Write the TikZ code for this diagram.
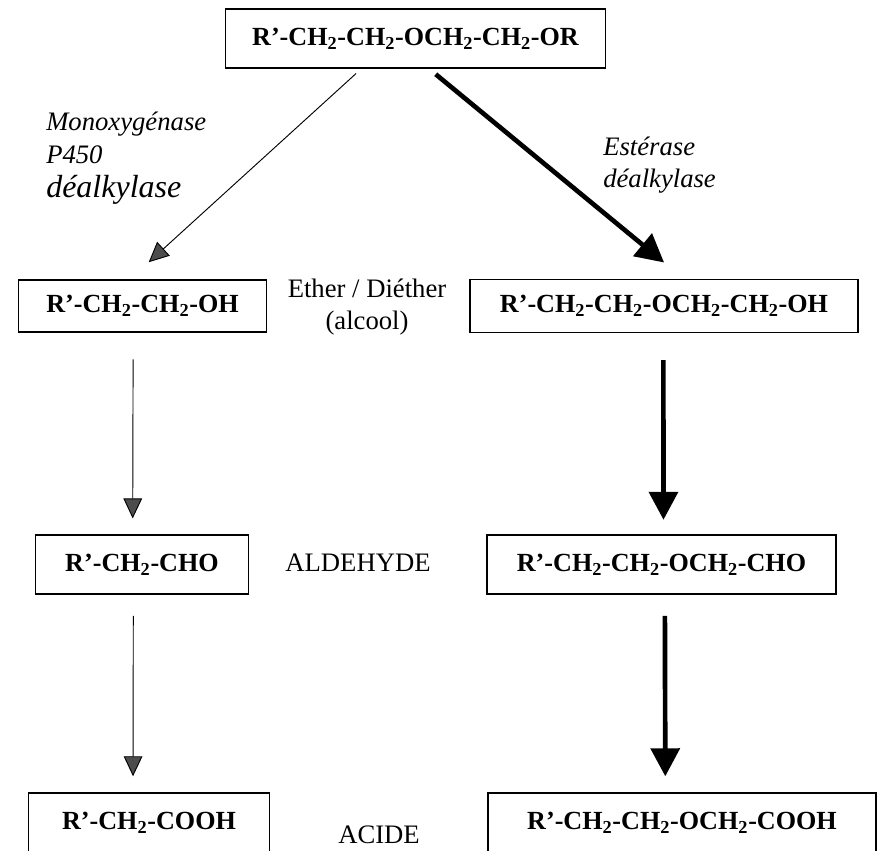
\documentclass[tikz,border=0pt]{standalone}
\usepackage{fontspec}
\setmainfont{Liberation Serif}
\usetikzlibrary{arrows.meta}
\newcommand{\cdeux}{CH\textsubscript{2}}
\tikzset{
  molbox/.style={draw,line width=1.1pt,inner sep=0pt,font=\fontsize{19.6}{24}\selectfont\bfseries},
  enzlabel/.style={align=left,anchor=west,inner sep=0pt,font=\fontsize{20}{23.5}\selectfont\itshape},
  famlabel/.style={align=center,inner sep=0pt,font=\fontsize{20}{23.5}\selectfont},
  thinarrow/.style={line width=0.7pt,-{Triangle[length=15pt,width=14pt,fill=black!70]}},
  thickarrow/.style={line width=3.5pt,-{Triangle[length=21pt,width=21.5pt,fill=black]}}
}
\begin{document}
\begin{tikzpicture}[x=0.75pt,y=-0.75pt]
\useasboundingbox (0,0) rectangle (877,850);
\clip (0,0) rectangle (877,850);
% top
\node[molbox,minimum width=285pt,minimum height=44pt] (top) at (415.5,38.5) {R'-\cdeux-\cdeux-O\cdeux-\cdeux-OR};
% left column
\node[molbox,minimum width=186pt,minimum height=39pt] (alcL) at (142.5,306) {R'-\cdeux-\cdeux-OH};
\node[molbox,minimum width=160pt,minimum height=44pt] (aldL) at (142,564.5) {R'-\cdeux-CHO};
\node[molbox,minimum width=181pt,minimum height=45pt] (acL) at (149,823) {R'-\cdeux-COOH};
% right column
\node[molbox,minimum width=291pt,minimum height=40pt] (alcR) at (664,306) {R'-\cdeux-\cdeux-O\cdeux-\cdeux-OH};
\node[molbox,minimum width=262pt,minimum height=44pt] (aldR) at (661.5,564.5) {R'-\cdeux-\cdeux-O\cdeux-CHO};
\node[molbox,minimum width=291pt,minimum height=45pt] (acR) at (682,823) {R'-\cdeux-\cdeux-O\cdeux-COOH};
% middle labels
\node[famlabel] (ether) at (367,307) {Ether / Diéther\\(alcool)};
\node[famlabel] (ald) at (358,563) {ALDEHYDE};
\node[famlabel] (acide) at (379,835) {ACIDE};
% enzymes
\node[enzlabel] (mono) at (46,124) {Monoxygénase};
\node[enzlabel] (ptq) at (46,155) {P450};
\node[enzlabel,font=\fontsize{24}{28}\selectfont\itshape] (dealkL) at (46,190) {déalkylase};
\node[enzlabel] (est) at (603,165) {Estérase\\déalkylase};
% arrows
\draw[thinarrow,shorten <=5.5pt,shorten >=19pt] ([xshift=-40.5pt]top.south) -- ([xshift=-9.4pt]alcL.north);
\draw[thickarrow,shorten <=6.7pt,shorten >=19pt] ([xshift=10pt]top.south) -- ([xshift=14.7pt]alcR.north);
\draw[thinarrow,shorten <=20pt,shorten >=12pt] ([xshift=-7pt]alcL.south) -- ([xshift=-7pt]aldL.north);
\draw[thinarrow,shorten <=16pt,shorten >=12pt] ([xshift=-6.5pt]aldL.south) -- ([xshift=-12pt]acL.north);
\draw[thickarrow,shorten <=20pt,shorten >=11pt] ([xshift=-0.5pt]alcR.south) -- ([xshift=1.5pt]aldR.north);
\draw[thickarrow,shorten <=16pt,shorten >=12pt] ([xshift=2.5pt]aldR.south) -- ([xshift=-12.5pt]acR.north);
\end{tikzpicture}
\end{document}
